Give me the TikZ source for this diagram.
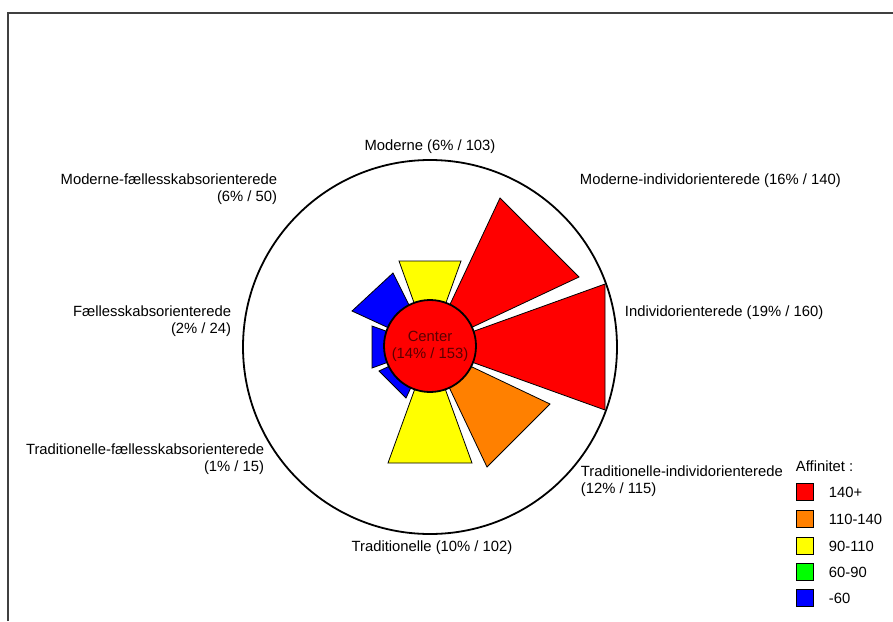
\documentclass[tikz,border=0pt]{standalone}
\usepackage{fontspec}
\setmainfont{Liberation Sans}
\usepackage{color}
\definecolor{affRed}{RGB}{255,0,0}
\definecolor{affOrange}{RGB}{255,128,0}
\definecolor{affYellow}{RGB}{255,255,0}
\definecolor{affGreen}{RGB}{0,255,0}
\definecolor{affBlue}{RGB}{0,0,255}
\definecolor{centerText}{RGB}{90,0,0}
\definecolor{frameGray}{RGB}{64,64,64}

\begin{document}
\begin{tikzpicture}[x=1pt,y=1pt,yscale=-1,xscale=1,
  sector/.style={draw=black, line width=0.8},
  keybox/.style={draw=black, line width=0.8},
  txt/.style={inner sep=0.75pt, font=\fontsize{14.8}{17}\selectfont}]
\useasboundingbox (0,0) rectangle (893,621);

%Frame
\draw [color=frameGray, line width=1.4] (8,621) -- (8,13) -- (893,13) ;

%Shape: Circle [outer ring]
\draw [line width=1.8] (430,347) circle [radius=187] ;

%Shape: Sector [Moderne]
\draw [sector, fill=affYellow] (430,347) -- (399,261) -- (461,261) -- cycle ;
%Shape: Sector [Moderne-individorienterede]
\draw [sector, fill=affRed] (430,347) -- (500,198) -- (579,277) -- cycle ;
%Shape: Sector [Individorienterede]
\draw [sector, fill=affRed] (430,347) -- (605,284) -- (605,410) -- cycle ;
%Shape: Sector [Traditionelle-individorienterede]
\draw [sector, fill=affOrange] (430,347) -- (550,404) -- (487,467) -- cycle ;
%Shape: Sector [Traditionelle]
\draw [sector, fill=affYellow] (430,347) -- (472,463) -- (388,463) -- cycle ;
%Shape: Sector [Traditionelle-faellesskabsorienterede]
\draw [sector, fill=affBlue] (430,347) -- (406,398) -- (379,371) -- cycle ;
%Shape: Sector [Faellesskabsorienterede]
\draw [sector, fill=affBlue] (430,347) -- (372,368) -- (372,326) -- cycle ;
%Shape: Sector [Moderne-faellesskabsorienterede]
\draw [sector, fill=affBlue] (430,347) -- (352,311) -- (393,273) -- cycle ;

%Shape: Circle [center]
\draw [line width=1.8, fill=affRed] (430,346) circle [radius=46] ;

% Text Node
\draw (430,346) node [anchor=center][txt, align=center, text=centerText] (center) {Center\\(14\% / 153)};
% Text Node
\draw (430,147) node [anchor=center][txt] (moderne) {Moderne (6\% / 103)};
% Text Node
\draw (579,181) node [anchor=west][txt] (modInd) {Moderne-individorienterede (16\% / 140)};
% Text Node
\draw (278,189) node [anchor=east][txt, align=right] (modFael) {Moderne-fællesskabsorienterede\\(6\% / 50)};
% Text Node
\draw (232,321) node [anchor=east][txt, align=right] (fael) {Fællesskabsorienterede\\(2\% / 24)};
% Text Node
\draw (624,313) node [anchor=west][txt] (ind) {Individorienterede (19\% / 160)};
% Text Node
\draw (265,459) node [anchor=east][txt, align=right] (tradFael) {Traditionelle-fællesskabsorienterede\\(1\% / 15)};
% Text Node
\draw (580,481) node [anchor=west][txt, align=left] (tradInd) {Traditionelle-individorienterede\\(12\% / 115)};
% Text Node
\draw (432,548) node [anchor=center][txt] (trad) {Traditionelle (10\% / 102)};

% Legend
\draw (795,466) node [anchor=west][txt] (keyTitle) {Affinitet :};
\draw [keybox, fill=affRed] (796,483.5) rectangle (813,500.5) ;
\draw (828,492) node [anchor=west][txt] (key1) {140+};
\draw [keybox, fill=affOrange] (796,510.5) rectangle (813,527.5) ;
\draw (828,519) node [anchor=west][txt] (key2) {110-140};
\draw [keybox, fill=affYellow] (796,537.5) rectangle (813,554.5) ;
\draw (828,546) node [anchor=west][txt] (key3) {90-110};
\draw [keybox, fill=affGreen] (796,563.5) rectangle (813,580.5) ;
\draw (828,572) node [anchor=west][txt] (key4) {60-90};
\draw [keybox, fill=affBlue] (796,589.5) rectangle (813,606.5) ;
\draw (828,598) node [anchor=west][txt] (key5) {-60};

\end{tikzpicture}
\end{document}
